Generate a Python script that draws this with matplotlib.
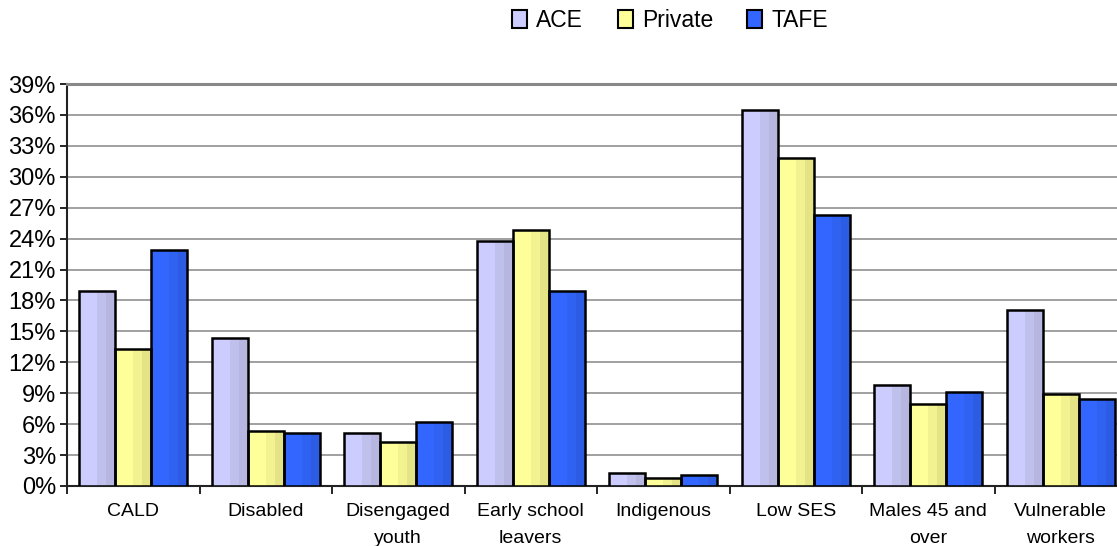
import numpy as np
import matplotlib
matplotlib.use('Agg')
import matplotlib.pyplot as plt
from matplotlib.patches import Patch
from matplotlib.ticker import MultipleLocator, FuncFormatter

plt.rcParams['font.family'] = ['Liberation Sans', 'DejaVu Sans']

categories = ['CALD', 'Disabled', 'Disengaged\nyouth', 'Early school\nleavers',
              'Indigenous', 'Low SES', 'Males 45 and\nover', 'Vulnerable\nworkers']
ace = [18.9, 14.4, 5.1, 23.8, 1.3, 36.5, 9.8, 17.1]
private = [13.3, 5.3, 4.3, 24.8, 0.8, 31.8, 8.0, 8.9]
tafe = [22.9, 5.1, 6.2, 18.9, 1.1, 26.3, 9.1, 8.4]

series = [('ACE', ace, ['#CCCCFF', '#C0C0EC', '#B6B6E0']),
          ('Private', private, ['#FFFF99', '#F2F290', '#E4E486']),
          ('TAFE', tafe, ['#3366FF', '#3062F2', '#2D5CE4'])]

fig = plt.figure(figsize=(11.17, 5.46), dpi=100)
ax = fig.add_axes([0.06, 0.11, 0.949, 0.736])

x = np.arange(len(categories))
w = 0.272
offs = [-w, 0, w]

for (name, vals, cols), off in zip(series, offs):
    left = x + off - w / 2
    # three vertical shading bands, light to dark
    ax.bar(left, vals, width=w * 0.5, align='edge', color=cols[0], zorder=3, linewidth=0)
    ax.bar(left + w * 0.5, vals, width=w * 0.25, align='edge', color=cols[1], zorder=3, linewidth=0)
    ax.bar(left + w * 0.75, vals, width=w * 0.25, align='edge', color=cols[2], zorder=3, linewidth=0)
    ax.bar(x + off, vals, width=w, facecolor='none', edgecolor='black', linewidth=1.8, zorder=4)

ax.set_xlim(-0.5, 7.5)
ax.set_ylim(0, 39)
ax.yaxis.set_major_locator(MultipleLocator(3))
ax.yaxis.set_major_formatter(FuncFormatter(lambda v, p: '%d%%' % round(v)))
ax.grid(axis='y', color='#999999', linewidth=1.3, zorder=0)
ax.set_axisbelow(True)

ax.set_xticks(np.arange(-0.5, 8, 1))
ax.set_xticklabels([])
ax.set_xticks(x, minor=True)
ax.set_xticklabels(categories, minor=True, fontsize=14, linespacing=1.8)
ax.tick_params(axis='x', which='minor', length=0, pad=12)
ax.tick_params(axis='x', which='major', length=6, width=1.2, direction='out')
ax.tick_params(axis='y', length=5, width=1.2, direction='out', labelsize=17, pad=3)

for s in ['left', 'bottom']:
    ax.spines[s].set_linewidth(1.5)
    ax.spines[s].set_color('#222222')
ax.spines['top'].set_color('#888888')
ax.spines['top'].set_linewidth(2.2)
ax.spines['right'].set_visible(False)

handles = [Patch(facecolor=c[0], edgecolor='black', linewidth=1.5, label=n) for n, v, c in series]
fig.legend(handles=handles, loc='center', bbox_to_anchor=(0.6, 0.963), ncol=3, frameon=False,
           fontsize=16.5, handlelength=0.65, handleheight=0.85, handletextpad=0.4, columnspacing=1.5)

fig.savefig('out.png', dpi=100)
